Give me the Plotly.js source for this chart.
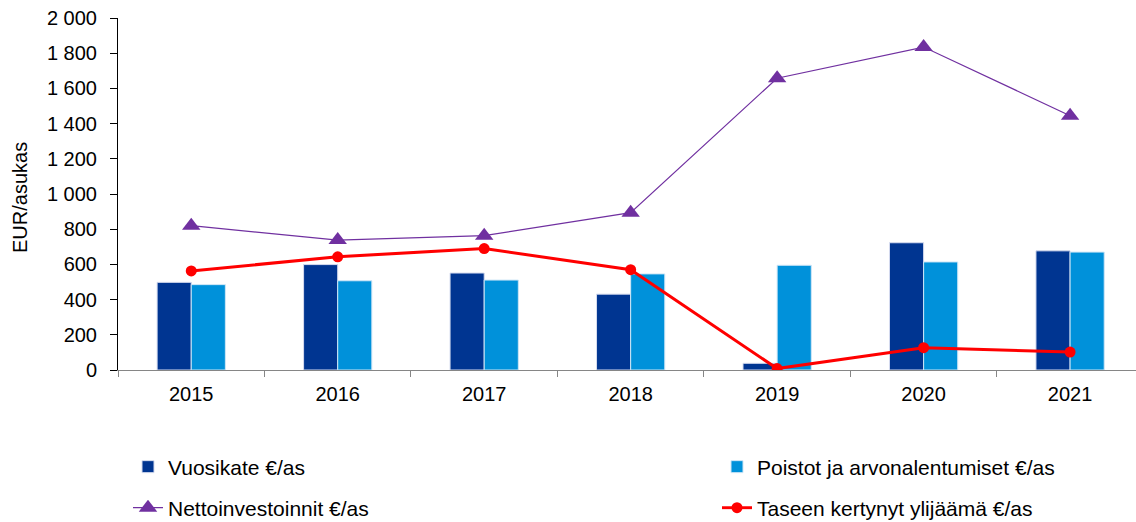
<!DOCTYPE html>
<html>
<head>
<meta charset="utf-8">
<script src="https://cdn.plot.ly/plotly-3.0.1.min.js"></script>
<style>html,body{margin:0;padding:0;background:#fff;}#chart{width:1136px;height:522px;}</style>
</head>
<body>
<div id="chart"></div>
<script>
const years = ["2015", "2016", "2017", "2018", "2019", "2020", "2021"];
const vuosikate = [498, 599, 551, 431, 38, 723, 677];
const poistot = [485, 507, 511, 546, 595, 614, 670];
const nettoinvestoinnit = [820, 738, 763, 894, 1658, 1835, 1445];
const ylijaama = [563, 643, 690, 570, 8, 127, 102];
const yTickVals = [0, 200, 400, 600, 800, 1000, 1200, 1400, 1600, 1800, 2000];
const yTickText = ["0", "200", "400", "600", "800", "1 000", "1 200", "1 400", "1 600", "1 800", "2 000"];

const font = {family: "Liberation Sans, Arial, sans-serif", size: 20, color: "#000"};
const legendFont = {family: "Liberation Sans, Arial, sans-serif", size: 21, color: "#000"};

const traces = [
  {type: "bar", name: "Vuosikate €/as", x: years, y: vuosikate,
   marker: {color: "#003591", line: {color: "#d6dcef", width: 1}}, legend: "legend"},
  {type: "bar", name: "Poistot ja arvonalentumiset €/as", x: years, y: poistot,
   marker: {color: "#0091DA", line: {color: "#cfe6f6", width: 1}}, legend: "legend2"},
  {type: "scatter", mode: "lines+markers", name: "Nettoinvestoinnit €/as", x: years, y: nettoinvestoinnit,
   line: {color: "#7030A0", width: 1.2}, marker: {symbol: "triangle-up", size: 16, color: "#7030A0"}, legend: "legend3"},
  {type: "scatter", mode: "lines+markers", name: "Taseen kertynyt ylijäämä €/as", x: years, y: ylijaama,
   line: {color: "#FF0000", width: 3}, marker: {symbol: "circle", size: 11, color: "#FF0000"}, legend: "legend4"}
];

function legendAt(px, py) {
  return {orientation: "h", xref: "container", yref: "container", xanchor: "left", yanchor: "middle",
    x: px / 1136, y: 1 - py / 522, font: legendFont, bgcolor: "rgba(0,0,0,0)"};
}

const layout = {
  width: 1136, height: 522,
  margin: {l: 118, r: 0, t: 18, b: 152},
  paper_bgcolor: "#fff", plot_bgcolor: "#fff",
  font: font,
  barmode: "group", bargap: 0.534, bargroupgap: 0,
  showlegend: true,
  xaxis: {type: "category", range: [-0.5, 6.45], showline: true, linecolor: "#868686", linewidth: 1.2,
    ticks: "outside", tickson: "boundaries", ticklen: 6, tickcolor: "#868686", showgrid: false,
    ticklabelstandoff: 6, tickfont: font, zeroline: false, fixedrange: true},
  yaxis: {range: [0, 2000], tickvals: yTickVals, ticktext: yTickText, showline: true, linecolor: "#000", linewidth: 1,
    ticks: "outside", ticklen: 7, tickcolor: "#000", showgrid: false, zeroline: false,
    ticklabelstandoff: 9, tickfont: font, fixedrange: true},
  legend: legendAt(128, 467),
  legend2: legendAt(717, 467),
  legend3: legendAt(128, 508),
  legend4: legendAt(717, 508),
  annotations: [{text: "EUR/asukas", textangle: -90, xref: "paper", yref: "paper",
    x: (20 - 118) / 1018, y: (370 - 198) / 352, xanchor: "center", yanchor: "middle", showarrow: false, font: font}]
};

Plotly.newPlot("chart", traces, layout, {displayModeBar: false, staticPlot: true});
</script>
</body>
</html>
